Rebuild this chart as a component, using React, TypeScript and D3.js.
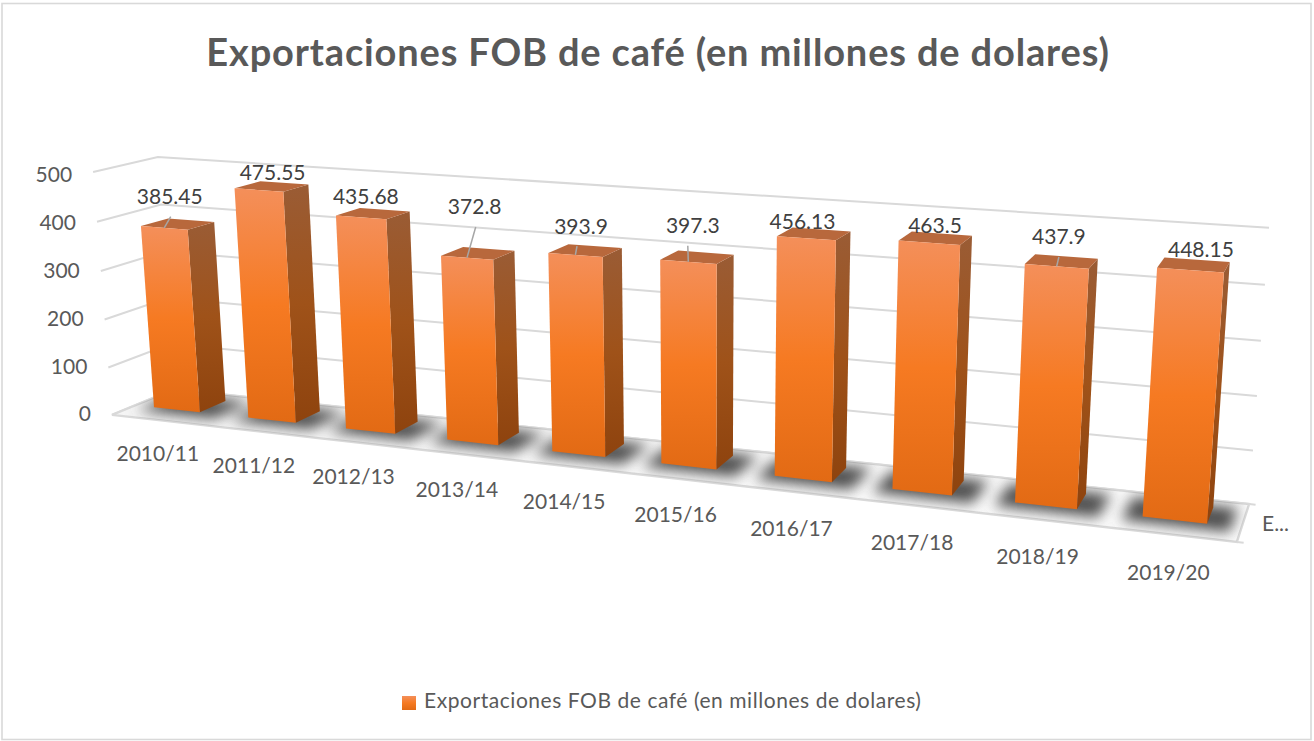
import React from "react";
import * as d3 from "d3";

const W = 1314;
const H = 741;

const chartTitle = "Exportaciones FOB de café (en millones de dolares)";
const categories = ["2010/11", "2011/12", "2012/13", "2013/14", "2014/15", "2015/16", "2016/17", "2017/18", "2018/19", "2019/20"];
const exportValues = [385.45, 475.55, 435.68, 372.8, 393.9, 397.3, 456.13, 463.5, 437.9, 448.15];
const valueTicks = [0, 100, 200, 300, 400, 500];
const depthLabel = "E...";

// label displacement from the top of each bar (chart labels were moved by hand)
const labelDx = [-9, 0, -8, -4, -5, -5, -12, -1, -3, 7];
const labelDy = [-25, -11, -15, -44, -22, -29, -10, -10, -22, -13];
const leaderDx = [1, 0, 0, 1, -4, -5, 0, 0, 0, 0];
const hasLeader = [true, false, false, true, true, true, false, false, true, false];

const xScale = d3.scaleLinear().domain([0, categories.length]).range([0, 1]);
const yScale = d3.scaleLinear().domain([0, 500]).range([0, 1]);

// calibration of the 3D box: [x, y, depth] -> [screen x, screen y]
const boxAnchors: [number, number, number, number, number][] = [
  [0, 0, 0, 112, 413],
  [0, 1, 0, 93, 173],
  [0, 1, 1, 158, 156],
  [0, 0, 1, 174, 391],
  [1, 1, 1, 1269, 228],
  [1, 0, 1, 1249, 503],
  [1, 0, 0, 1237, 543],
];

function solveCamera(anchors: typeof boxAnchors) {
  const rows: number[][] = [];
  const rhs: number[] = [];
  const k = 1000;
  for (const [X, Y, Z, u0, v0] of anchors) {
    const u = u0 / k;
    const v = v0 / k;
    rows.push([X, Y, Z, 1, 0, 0, 0, 0, -u * X, -u * Y, -u * Z]);
    rhs.push(u);
    rows.push([0, 0, 0, 0, X, Y, Z, 1, -v * X, -v * Y, -v * Z]);
    rhs.push(v);
  }
  const n = 11;
  const A: number[][] = d3.range(n).map((i) =>
    d3.range(n + 1).map((j) =>
      j < n ? d3.sum(rows, (r) => r[i] * r[j]) + (i === j ? 1e-9 : 0) : d3.sum(rows, (r, m) => r[i] * rhs[m])
    )
  );
  for (let c = 0; c < n; c++) {
    let piv = c;
    for (let r = c + 1; r < n; r++) if (Math.abs(A[r][c]) > Math.abs(A[piv][c])) piv = r;
    [A[c], A[piv]] = [A[piv], A[c]];
    for (let r = 0; r < n; r++) {
      if (r === c) continue;
      const f = A[r][c] / A[c][c];
      for (let j = c; j <= n; j++) A[r][j] -= f * A[c][j];
    }
  }
  return d3.range(n).map((i) => A[i][n] / A[i][i]);
}

const P = solveCamera(boxAnchors);

function project(cat: number, value: number, depth: number): [number, number] {
  const X = xScale(cat);
  const Y = yScale(value);
  const Z = depth;
  const w = P[8] * X + P[9] * Y + P[10] * Z + 1;
  return [
    (1000 * (P[0] * X + P[1] * Y + P[2] * Z + P[3])) / w,
    (1000 * (P[4] * X + P[5] * Y + P[6] * Z + P[7])) / w,
  ];
}

const lineGen = d3.line<[number, number]>();
const poly = (pts: [number, number][]) => lineGen(pts) + "Z";
const gridColor = "#D9D9D9";

const BAR_HALF = 0.245;
const D0 = 0.27;
const D1 = 0.7;
const BASE = 7; // the bars stand on the floor plate, slightly above value 0

const barCenter = d3.scaleLinear().domain([0, 9]).range([0.515, 9.505]);
const catDx = -1;
const catDy = d3.scaleLinear().domain([0, 9]).range([36, 40]);
const tickLabelY = d3.scaleLinear().domain([0, 500]).range([416, 177]);

export default function App() {
  const n = categories.length;
  const floor: [number, number][] = [project(0, 0, 0), project(n, 0, 0), project(n, 0, 1), project(0, 0, 1)];
  const font = "Lato, 'Open Sans', sans-serif";
  return (
    <svg width={W} height={H} style={{ position: "absolute", left: 0, top: 0, background: "#fff" }} fontFamily={font}>
      <defs>
        <linearGradient id="front" x1="0" y1="0" x2="0" y2="1">
          <stop offset="0" stopColor="#F48F5A" />
          <stop offset="0.5" stopColor="#F67A22" />
          <stop offset="1" stopColor="#E26A14" />
        </linearGradient>
        <linearGradient id="side" x1="0" y1="0" x2="0" y2="1">
          <stop offset="0" stopColor="#9A5C35" />
          <stop offset="0.5" stopColor="#9F5219" />
          <stop offset="1" stopColor="#8E430E" />
        </linearGradient>
        <linearGradient id="plate" x1="0" y1="0" x2="0" y2="1">
          <stop offset="0" stopColor="#f4f4f4" />
          <stop offset="1" stopColor="#fbfbfb" />
        </linearGradient>
        <filter id="soft" filterUnits="userSpaceOnUse" x={0} y={300} width={W} height={300}>
          <feGaussianBlur stdDeviation="7" />
        </filter>
        <clipPath id="floorClip">
          <path d={poly(floor)} />
        </clipPath>
      </defs>
      <rect x={2} y={3.5} width={1309} height={736} fill="#fff" stroke={gridColor} strokeWidth={1.6} />
      <text x={658} y={66} textAnchor="middle" fontSize={38} letterSpacing={0.85} fontWeight={700} fill="#595959">
        {chartTitle}
      </text>

      {valueTicks.map((t) => {
        const a = project(0, t, 0);
        const b = project(0, t, 1);
        const c = project(n, t, 1);
        return (
          <g key={t}>
            <path d={lineGen([a, b, c]) as string} fill="none" stroke={gridColor} strokeWidth={2} />
            <text x={a[0] - 21} y={tickLabelY(t)} textAnchor="end" dominantBaseline="middle" fontSize={21} fill="#595959">
              {t}
            </text>
          </g>
        );
      })}

      <path d={poly(floor)} fill="url(#plate)" stroke={gridColor} strokeWidth={2.4} />
      <path d={lineGen([project(n, 0, 1), project(n + 0.05, 0, 1)]) as string} stroke={gridColor} strokeWidth={2} />
      <path d={lineGen([project(n, 0, 0), project(n + 0.05, 0, 0)]) as string} stroke={gridColor} strokeWidth={2} />
      <g clipPath="url(#floorClip)">
        <g filter="url(#soft)" fill="#505050">
          {exportValues.map((_, i) => {
            const c = barCenter(i);
            return (
              <path
                key={i}
                d={poly([
                  project(c - 0.4, 0, D0 - 0.05),
                  project(c + 0.42, 0, D0 - 0.05),
                  project(c + 0.42, 0, 0.86),
                  project(c - 0.4, 0, 0.86),
                ])}
              />
            );
          })}
        </g>
      </g>

      {exportValues.map((v, i) => {
        const c = barCenter(i);
        const l = c - BAR_HALF;
        const r = c + BAR_HALF;
        return (
          <g key={i}>
            <path
              d={poly([project(r, BASE, D0), project(r, BASE, D1), project(r, v, D1), project(r, v, D0)])}
              fill="url(#side)"
            />
            <path
              d={poly([project(l, v, D0), project(r, v, D0), project(r, v, D1), project(l, v, D1)])}
              fill="#B8683C"
            />
            <path
              d={poly([project(l, BASE, D0), project(r, BASE, D0), project(r, v, D0), project(l, v, D0)])}
              fill="url(#front)"
            />
          </g>
        );
      })}

      {exportValues.map((v, i) => {
        const c = barCenter(i);
        const top = project(c, v, 0.5);
        const lx = top[0] + labelDx[i];
        const ly = top[1] + labelDy[i];
        const edge = project(c, v, D0);
        return (
          <g key={i}>
            {hasLeader[i] && (
              <line x1={lx + leaderDx[i]} y1={ly + 18} x2={edge[0]} y2={edge[1]} stroke="#A6A6A6" strokeWidth={1.5} />
            )}
            <text x={lx} y={ly} textAnchor="middle" dominantBaseline="middle" fontSize={21} fill="#404040">
              {String(v)}
            </text>
          </g>
        );
      })}

      {categories.map((cat, i) => {
        const p = project(i + 0.5, 0, 0);
        return (
          <text
            key={cat}
            x={p[0] + catDx}
            y={p[1] + catDy(i)}
            textAnchor="middle"
            dominantBaseline="middle"
            fontSize={21}
            fill="#595959"
          >
            {cat}
          </text>
        );
      })}

      <text x={1262} y={526} dominantBaseline="middle" fontSize={21} fill="#595959">
        {depthLabel}
      </text>

      <rect x={402} y={696} width={14} height={14} fill="url(#front)" />
      <text x={424} y={703} dominantBaseline="middle" fontSize={21} letterSpacing={0.55} fill="#595959">
        {chartTitle}
      </text>
    </svg>
  );
}
